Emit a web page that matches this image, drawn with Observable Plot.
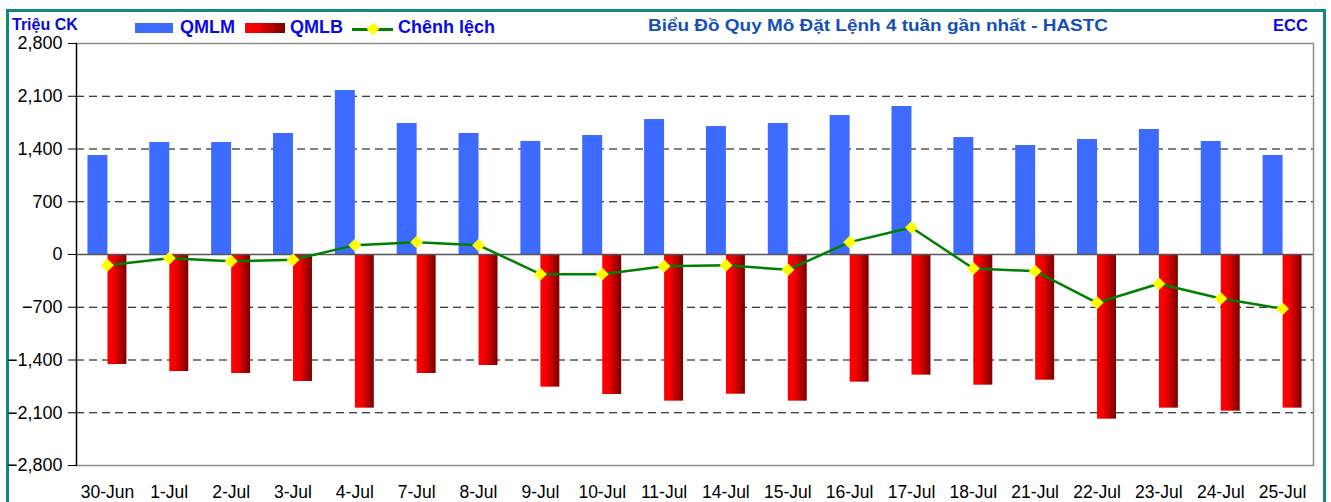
<!DOCTYPE html>
<html>
<head>
<meta charset="utf-8">
<script src="https://cdn.jsdelivr.net/npm/d3@7"></script>
<script src="https://cdn.jsdelivr.net/npm/@observablehq/plot@0.6"></script>
<style>
  html, body { margin: 0; padding: 0; background: #fff; }
  #wrap { position: relative; width: 1331px; height: 502px; overflow: hidden; font-family: 'Liberation Sans', Arial, sans-serif; }
  #frame { position: absolute; left: 6px; top: 9px; width: 1320px; height: 520px; border: 3px solid #108880; box-sizing: border-box; }
  .t { position: absolute; font-weight: bold; line-height: 1; white-space: nowrap; }
  .sw { position: absolute; }
  #chart { position: absolute; left: 0; top: 0; }
  #title { transform-origin: 0 50%; }
</style>
</head>
<body>
<div id="wrap">
  <div id="frame"></div>
  <div id="chart"></div>
  <div class="t" style="left:12px; top:16.5px; font-size:16px; color:#0a0ad8;">Triệu CK</div>
  <div class="sw" style="left:135px; top:23px; width:38px; height:10px; background:#3D6BFF;"></div>
  <div class="t" style="left:180px; top:17.5px; font-size:18px; color:#0a0ae6;">QMLM</div>
  <div class="sw" style="left:245px; top:23px; width:40px; height:10px; background:linear-gradient(to right,#ff0000 0%,#f00000 35%,#7a0000 100%);"></div>
  <div class="t" style="left:290px; top:17.5px; font-size:18px; color:#0a0ae6;">QMLB</div>
  <div class="sw" style="left:352px; top:27.5px; width:41px; height:3px; background:#008000;"></div>
  <div class="sw" style="left:367px; top:23px; width:12px; height:12px; background:#FFFF00; transform:rotate(45deg) scale(0.75);"></div>
  <div class="t" style="left:398px; top:17.5px; font-size:18px; color:#0a0ae6;">Chênh lệch</div>
  <div class="t" id="title" style="left:648px; top:16.5px; font-size:16.5px; color:#1450B8;">Biểu Đồ Quy Mô Đặt Lệnh 4 tuần gần nhất - HASTC</div>
  <div class="t" style="left:1273px; top:17px; font-size:16.5px; color:#0a0ae6;">ECC</div>
</div>
<script>
const dates = ["30-Jun","1-Jul","2-Jul","3-Jul","4-Jul","7-Jul","8-Jul","9-Jul","10-Jul","11-Jul",
               "14-Jul","15-Jul","16-Jul","17-Jul","18-Jul","21-Jul","22-Jul","23-Jul","24-Jul","25-Jul"];
const qmlm = [1314,1486,1486,1606,2176,1738,1606,1500,1579,1791,1698,1738,1844,1964,1552,1446,1526,1659,1500,1314];
const qmlb = [-1460,-1553,-1579,-1685,-2039,-1579,-1473,-1760,-1858,-1946,-1854,-1946,-1694,-1601,-1734,-1668,-2185,-2039,-2079,-2039];
const chenh = [-142,-49,-89,-71,124,164,124,-261,-261,-155,-142,-203,164,358,-186,-221,-641,-389,-584,-721];
const yTicks = [2800,2100,1400,700,0,-700,-1400,-2100,-2800];
const gridTicks = [2100,1400,700,-700,-1400,-2100];

const rows = dates.map((d, i) => ({date: d, qmlm: qmlm[i], qmlb: qmlb[i], chenh: chenh[i]}));

const chart = Plot.plot({
  width: 1331,
  height: 502,
  marginLeft: 76,
  marginRight: 18,
  marginTop: 43,
  marginBottom: 37,
  style: {fontFamily: "'Liberation Sans', Arial, sans-serif", fontSize: "17.5px", color: "#000", background: "transparent"},
  x: {domain: dates, paddingInner: 0.37, paddingOuter: 0.185, round: false, label: null},
  y: {domain: [-2800, 2800], label: null},
  marks: [
    Plot.ruleY(gridTicks, {stroke: "#000", strokeDasharray: "8,5", strokeWidth: 1}),
    Plot.barY(rows, {x: "date", y: "qmlm", fill: "#3D6BFF", insetRight: 19, insetLeft: 0}),
    Plot.barY(rows, {x: "date", y: "qmlb", fill: "url(#redGrad)", insetLeft: 20, insetRight: 0}),
    Plot.ruleY([0], {stroke: "#555", strokeWidth: 1.3}),
    Plot.frame({stroke: "#8c8c8c", strokeWidth: 1.5}),
    Plot.frame({anchor: "left", stroke: "#000", strokeWidth: 1.3}),
    Plot.axisY({ticks: yTicks, tickFormat: d3.format(","), tickSize: 8, tickPadding: 6, label: null, fontSize: 18}),
    Plot.axisX({tickSize: 0, tickPadding: 20, label: null}),
    Plot.line(rows, {x: "date", y: "chenh", stroke: "#008000", strokeWidth: 2.5}),
    Plot.dot(rows, {x: "date", y: "chenh", symbol: "diamond2", r: 5.8, fill: "#FFFF00", stroke: "none"})
  ]
});

const ns = "http://www.w3.org/2000/svg";
const defs = document.createElementNS(ns, "defs");
defs.innerHTML = '<linearGradient id="redGrad" x1="0" x2="1" y1="0" y2="0">' +
  '<stop offset="0" stop-color="#ff0000"/><stop offset="0.35" stop-color="#f20000"/>' +
  '<stop offset="1" stop-color="#7a0000"/></linearGradient>';
chart.insertBefore(defs, chart.firstChild);
document.getElementById("chart").appendChild(chart);

// stretch the title horizontally to the reference's span
const title = document.getElementById("title");
const w = title.getBoundingClientRect().width;
if (w > 0) title.style.transform = `scaleX(${460 / w})`;
</script>
</body>
</html>
